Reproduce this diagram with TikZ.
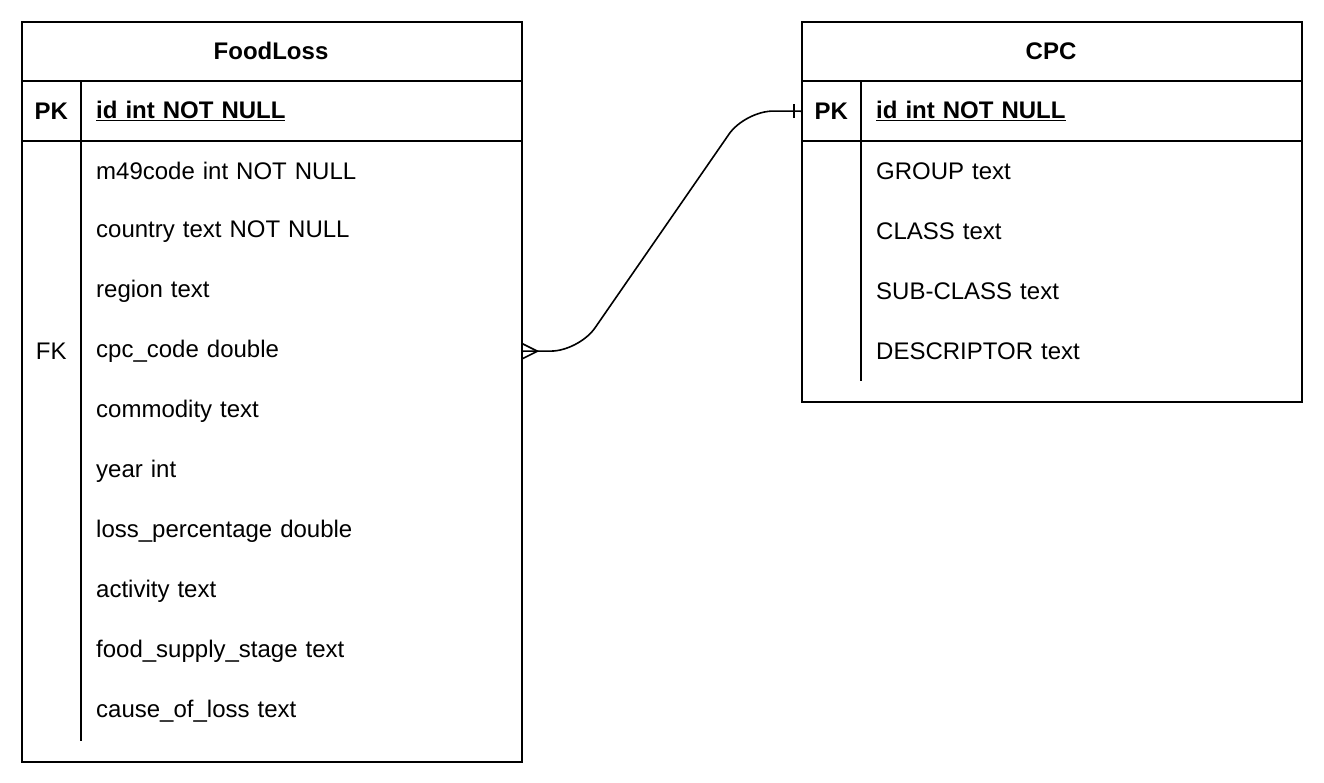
\documentclass[tikz,border=0pt]{standalone}
\usepackage{fontspec}
\setmainfont{Liberation Sans}
\begin{document}
\begin{tikzpicture}[x=1pt,y=-1pt,
  every node/.style={font=\fontsize{24}{28}\selectfont},
  tbl/.style={draw,line width=2pt,anchor=north west,inner sep=0pt},
  hdr/.style={font=\fontsize{24}{28}\selectfont\bfseries,inner sep=0pt},
  keycell/.style={minimum width=60pt,minimum height=60pt,inner sep=0pt,anchor=north west},
  rowcell/.style={text width=410pt,inner xsep=15pt,inner ysep=0pt,minimum height=60pt,anchor=north west,align=left},
  sep/.style={line width=2pt},
  rel/.style={line width=1.6pt}
]
\useasboundingbox (0,0) rectangle (1324,782);
% FoodLoss table
\node[tbl,minimum width=500pt,minimum height=740pt] (fl) at (21,21) {};
\node[hdr] (fltitle) at (271,51) {FoodLoss};
\draw[sep] (21,81) -- (521,81);
\draw[sep] (21,141) -- (521,141);
\draw[sep] (81,81) -- (81,741);
\node[keycell,font=\fontsize{24}{28}\selectfont\bfseries] (flpk) at (21,81) {PK};
\node[rowcell,font=\fontsize{24}{28}\selectfont\bfseries] (flid) at (81,81) {\underline{id int NOT NULL}};
\node[rowcell] (flr1) at (81,141) {m49code int NOT NULL};
\node[rowcell] (flr2) at (81,201) {country text NOT NULL};
\node[rowcell] (flr3) at (81,261) {region text};
\node[keycell] (flfk) at (21,321) {FK};
\node[rowcell] (flr4) at (81,321) {cpc\_code double};
\node[rowcell] (flr5) at (81,381) {commodity text};
\node[rowcell] (flr6) at (81,441) {year int};
\node[rowcell] (flr7) at (81,501) {loss\_percentage double};
\node[rowcell] (flr8) at (81,561) {activity text};
\node[rowcell] (flr9) at (81,621) {food\_supply\_stage text};
\node[rowcell] (flr10) at (81,681) {cause\_of\_loss text};
% CPC table
\node[tbl,minimum width=500pt,minimum height=380pt] (cpc) at (801,21) {};
\node[hdr] (cpctitle) at (1051,51) {CPC};
\draw[sep] (801,81) -- (1301,81);
\draw[sep] (801,141) -- (1301,141);
\draw[sep] (861,81) -- (861,381);
\node[keycell,font=\fontsize{24}{28}\selectfont\bfseries] (cpcpk) at (801,81) {PK};
\node[rowcell,font=\fontsize{24}{28}\selectfont\bfseries] (cpcid) at (861,81) {\underline{id int NOT NULL}};
\node[rowcell] (cpcr1) at (861,141) {GROUP text};
\node[rowcell] (cpcr2) at (861,201) {CLASS text};
\node[rowcell] (cpcr3) at (861,261) {SUB-CLASS text};
\node[rowcell] (cpcr4) at (861,321) {DESCRIPTOR text};
% relationship
\coordinate (c1) at (579,351);
\coordinate (c2) at (745,111);
\draw[rel,rounded corners=28pt] (flr4.east) -- (c1) -- (c2) -- (cpcpk.west);
\draw[rel] ([yshift=8pt]flr4.east) -- ([xshift=16pt]flr4.east) -- ([yshift=-8pt]flr4.east);
\draw[rel] ([xshift=-7pt,yshift=-7pt]cpcpk.west) -- ([xshift=-7pt,yshift=7pt]cpcpk.west);
\end{tikzpicture}
\end{document}
